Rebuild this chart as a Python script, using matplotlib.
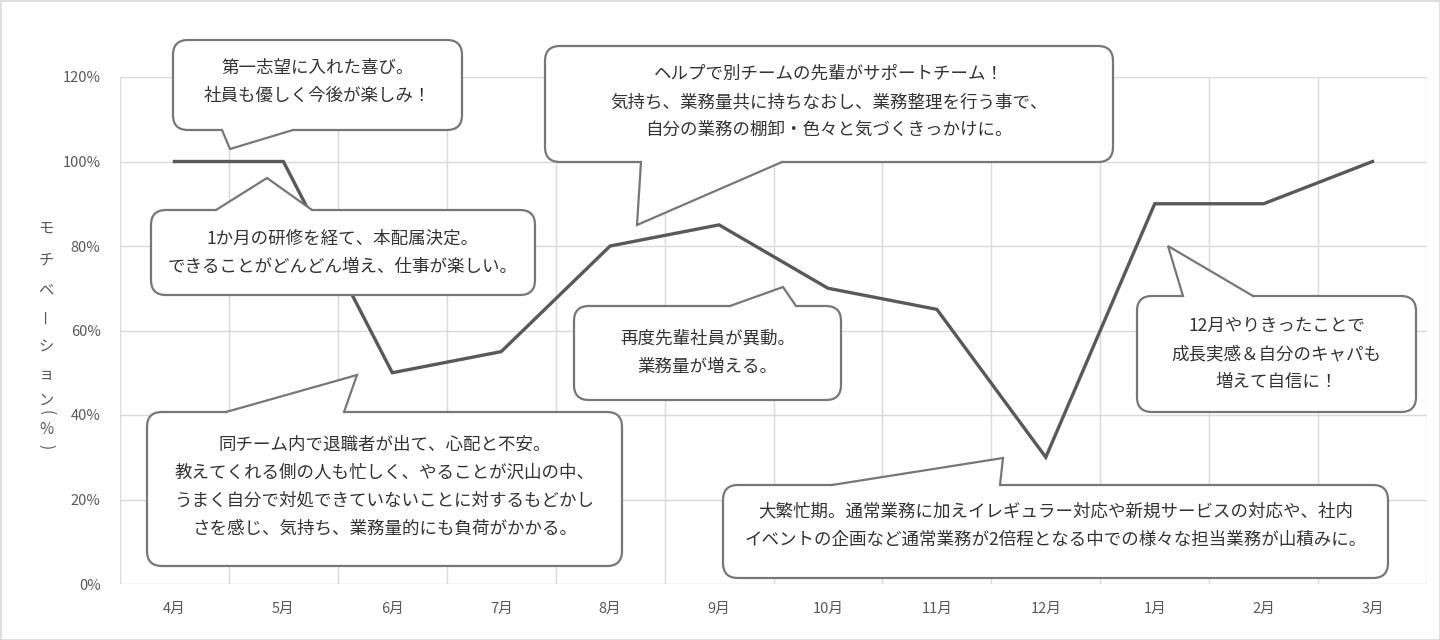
import numpy as np
import matplotlib
matplotlib.use("Agg")
import matplotlib.pyplot as plt
from matplotlib.patches import FancyBboxPatch, Rectangle, Polygon
from matplotlib.ticker import FuncFormatter

plt.rcParams['font.family'] = ['Noto Sans CJK JP', 'DejaVu Sans']

# data
months = ['4月', '5月', '6月', '7月', '8月', '9月', '10月', '11月', '12月', '1月', '2月', '3月']
motivation = [100, 100, 50, 55, 80, 85, 70, 65, 30, 90, 90, 100]
yticks = [0, 20, 40, 60, 80, 100, 120]
ylabel_chars = ['モ', 'チ', 'ベ', 'ー', 'シ', 'ョ', 'ン', '(', '%', ')']

notes = [
    "第一志望に入れた喜び。\n社員も優しく今後が楽しみ！",
    "1か月の研修を経て、本配属決定。\nできることがどんどん増え、仕事が楽しい。",
    "同チーム内で退職者が出て、心配と不安。\n教えてくれる側の人も忙しく、やることが沢山の中、\n"
    "うまく自分で対処できていないことに対するもどかし\nさを感じ、気持ち、業務量的にも負荷がかかる。",
    "ヘルプで別チームの先輩がサポートチーム！\n気持ち、業務量共に持ちなおし、業務整理を行う事で、\n"
    "自分の業務の棚卸・色々と気づくきっかけに。",
    "再度先輩社員が異動。\n業務量が増える。",
    "大繁忙期。通常業務に加えイレギュラー対応や新規サービスの対応や、社内\n"
    "イベントの企画など通常業務が2倍程となる中での様々な担当業務が山積みに。",
    "12月やりきったことで\n成長実感＆自分のキャパも\n増えて自信に！",
]

line_col = '#595959'
grid_col = '#d9d9d9'
edge_col = '#777777'
txt_col = '#333333'

fig = plt.figure(figsize=(14.4, 6.4), dpi=100)
fig.patch.set_facecolor('white')

ax = fig.add_axes([120 / 1440, 56 / 640, 1307 / 1440, 507 / 640])
x = np.arange(len(months))
ax.plot(x, motivation, color=line_col, lw=2.4, solid_joinstyle='miter', zorder=3)
ax.set_xlim(-0.5, len(months) - 0.5)
ax.set_ylim(0, 120)
ax.set_yticks(yticks)
ax.yaxis.set_major_formatter(FuncFormatter(lambda v, p: f"{int(v)}%"))
ax.set_xticks(x)
ax.set_xticklabels(months)
ax.set_xticks(np.arange(-0.5, len(months), 1), minor=True)
ax.grid(which='major', axis='y', color=grid_col, lw=1)
ax.grid(which='minor', axis='x', color=grid_col, lw=1)
for s in ax.spines.values():
    s.set_visible(False)
ax.tick_params(which='both', length=0)
ax.tick_params(axis='y', pad=14, labelsize=10.5, labelcolor=line_col)
ax.tick_params(axis='x', pad=13, labelsize=10.5, labelcolor=line_col)

# overlay in pixel coordinates for callouts
ov = fig.add_axes([0, 0, 1, 1])
ov.set_xlim(0, 1440)
ov.set_ylim(640, 0)
ov.axis('off')
ov.patch.set_alpha(0)

ov.add_patch(Rectangle((0.5, 0.5), 1439, 639, fc='none', ec=grid_col, lw=1.2))

# vertical y label
ylab_y = [228, 260, 290, 317, 347, 375, 400, 413, 430, 447]
for ch, yy in zip(ylabel_chars, ylab_y):
    rot = 0
    if ch == 'ー':
        ch = '—'
        rot = 90
    elif ch in ('(', ')'):
        rot = -90
    ov.text(46, yy, ch, ha='center', va='center', rotation=rot,
            fontsize=11, color=line_col)


def callout(x0, y0, x1, y1, side, b1, b2, tip, text, dy=0):
    ov.add_patch(FancyBboxPatch((x0, y0), x1 - x0, y1 - y0,
                                boxstyle="round,pad=0,rounding_size=15",
                                fc='white', ec=edge_col, lw=1.6, zorder=5))
    ey = y0 if side == 'top' else y1
    inw = 3 if side == 'top' else -3
    ov.add_patch(Polygon([(b1, ey + inw), (b1, ey), tip, (b2, ey), (b2, ey + inw)],
                         closed=True, fc='white', ec='none', zorder=6))
    ov.plot([b1, tip[0], b2], [ey, tip[1], ey], color=edge_col, lw=1.6,
            solid_joinstyle='miter', zorder=7)
    ov.text((x0 + x1) / 2, (y0 + y1) / 2 + dy, text, ha='center', va='center',
            fontsize=12.6, color=txt_col, linespacing=1.72, zorder=8)


callout(173, 40, 462, 130, 'bottom', 222, 293, (230, 149), notes[0], dy=-3)
callout(151, 210, 535, 295, 'top', 216, 312, (267, 178), notes[1])
callout(147, 412, 622, 566, 'top', 226, 344, (357, 375), notes[2], dy=-2)
callout(545, 46, 1113, 162, 'bottom', 641, 782, (637, 225), notes[3], dy=-2)
callout(574, 306, 841, 400, 'top', 730, 796, (783, 287), notes[4])
callout(723, 485, 1388, 578, 'top', 832, 1000, (1003, 458), notes[5], dy=-6)
callout(1137, 296, 1416, 412, 'top', 1183, 1253, (1168, 246), notes[6])

fig.savefig('out.png', dpi=100, facecolor='white')
